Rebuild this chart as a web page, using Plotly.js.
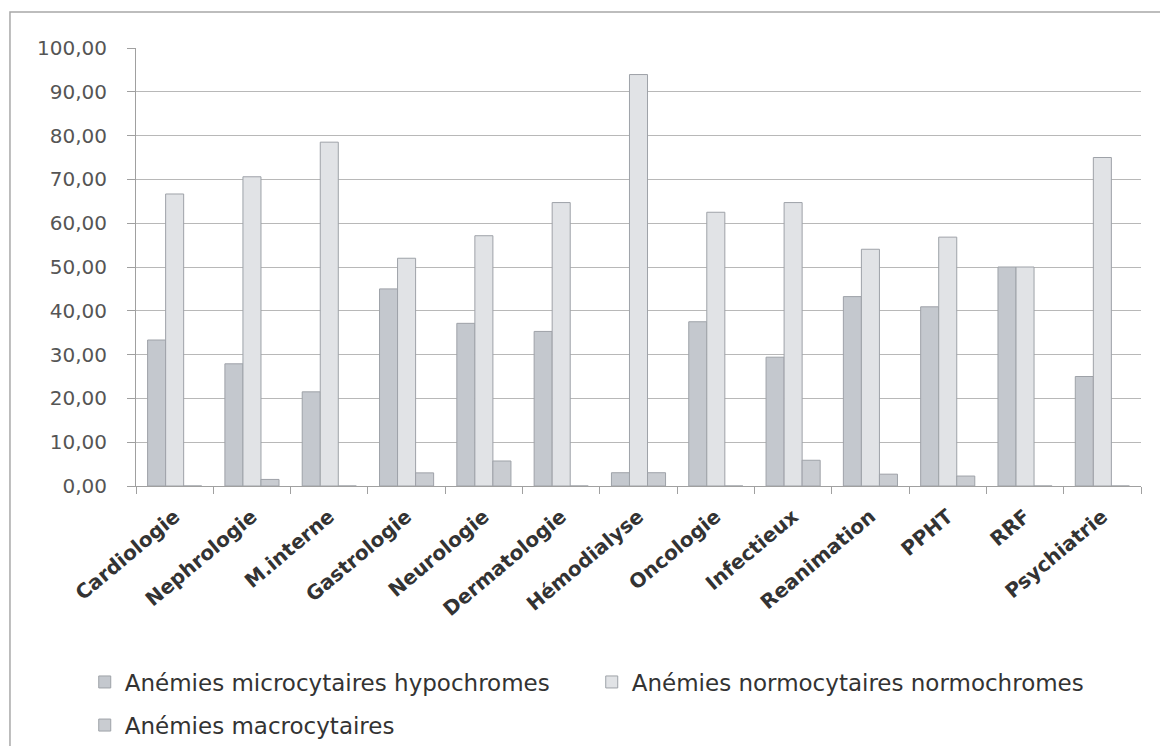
<!DOCTYPE html>
<html>
<head>
<meta charset="utf-8">
<script src="https://cdn.plot.ly/plotly-3.0.1.min.js"></script>
<style>
  html, body { margin: 0; padding: 0; background: #ffffff; }
  #chart { width: 1160px; height: 746px; }
</style>
</head>
<body>
<div id="chart"></div>
<script>
// ---- Data ----
const categories = ["Cardiologie", "Nephrologie", "M.interne", "Gastrologie", "Neurologie",
  "Dermatologie", "Hémodialyse", "Oncologie", "Infectieux", "Reanimation", "PPHT", "RRF", "Psychiatrie"];

const microcytaires = [33.33, 27.9, 21.5, 45.0, 37.14, 35.29, 3.03, 37.5, 29.41, 43.24, 40.91, 50.0, 25.0];
const normocytaires = [66.67, 70.6, 78.5, 52.0, 57.14, 64.71, 93.94, 62.5, 64.71, 54.05, 56.82, 50.0, 75.0];
const macrocytaires = [0.0, 1.5, 0.0, 3.0, 5.71, 0.0, 3.03, 0.0, 5.88, 2.7, 2.27, 0.0, 0.0];

const seriesNames = ["Anémies microcytaires hypochromes", "Anémies normocytaires normochromes", "Anémies macrocytaires"];

const textFont = "DejaVu Sans, Open Sans, sans-serif";

function barTrace(name, values, fill, legendId) {
  return {
    type: "bar",
    name: name,
    x: categories,
    y: values,
    marker: { color: fill, line: { color: "#9ea2a8", width: 1 } },
    legend: legendId,
    hoverinfo: "x+y+name"
  };
}

const data = [
  barTrace(seriesNames[0], microcytaires, "#c4c8ce", "legend"),
  barTrace(seriesNames[1], normocytaires, "#e1e3e6", "legend"),
  barTrace(seriesNames[2], macrocytaires, "#c9ccd1", "legend2")
];

const layout = {
  width: 1160,
  height: 746,
  autosize: false,
  margin: { l: 136, r: 19, t: 48, b: 260 },
  paper_bgcolor: "#ffffff",
  plot_bgcolor: "#ffffff",
  separators: ", ",
  barmode: "group",
  bargap: 0.3,
  bargroupgap: 0,
  showlegend: true,
  font: { family: textFont, color: "#444444" },
  xaxis: {
    type: "category",
    tickangle: -40,
    tickfont: { family: "DejaVu Sans, sans-serif", size: 20, color: "#333333", weight: "bold" },
    showline: true,
    linecolor: "#a0a0a0",
    linewidth: 1,
    ticks: "outside",
    tickson: "boundaries",
    ticklen: 7,
    tickcolor: "#a0a0a0",
    ticklabelstandoff: 10,
    showgrid: false,
    automargin: false,
    fixedrange: true
  },
  yaxis: {
    range: [0, 100],
    tickvals: [0, 10, 20, 30, 40, 50, 60, 70, 80, 90, 100],
    tickformat: ".2f",
    tickfont: { family: textFont, size: 20, color: "#555555" },
    showline: true,
    linecolor: "#a0a0a0",
    linewidth: 1,
    ticks: "outside",
    ticklen: 8,
    tickcolor: "#a0a0a0",
    ticklabelstandoff: 16,
    showgrid: true,
    gridcolor: "#b8b8b8",
    gridwidth: 1,
    zeroline: false,
    automargin: false,
    fixedrange: true
  },
  legend: {
    orientation: "h",
    xref: "paper",
    x: -0.051,
    xanchor: "left",
    yref: "paper",
    y: -0.4475,
    yanchor: "middle",
    entrywidth: 462,
    entrywidthmode: "pixels",
    font: { family: textFont, size: 23, color: "#333333" },
    bgcolor: "rgba(0,0,0,0)"
  },
  legend2: {
    orientation: "h",
    xref: "paper",
    x: -0.051,
    xanchor: "left",
    yref: "container",
    y: 0.028,
    yanchor: "middle",
    font: { family: textFont, size: 23, color: "#333333" },
    bgcolor: "rgba(0,0,0,0)"
  },
  shapes: [
    {
      type: "rect",
      xref: "paper", yref: "paper",
      x0: -0.1254, x1: 1.05,
      y0: -0.65, y1: 1.0822,
      line: { color: "#a8a8a8", width: 1.5 },
      fillcolor: "rgba(0,0,0,0)",
      layer: "below"
    }
  ]
};

Plotly.newPlot("chart", data, layout, { displayModeBar: false, staticPlot: true });
</script>
</body>
</html>
